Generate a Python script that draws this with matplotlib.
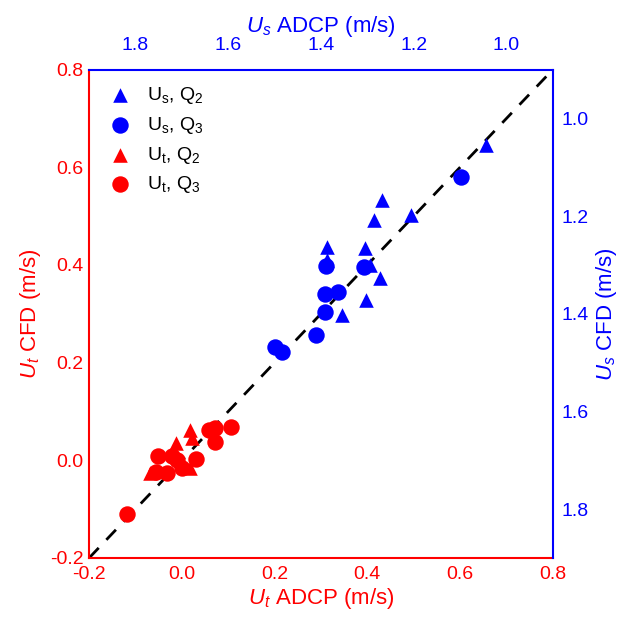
import matplotlib.pyplot as plt

plt.rcParams['font.family'] = ['Liberation Sans', 'DejaVu Sans']
plt.rcParams['mathtext.fontset'] = 'custom'
plt.rcParams['mathtext.rm'] = 'Liberation Sans'
plt.rcParams['mathtext.it'] = 'Liberation Sans:italic'

RED = '#ff0000'
BLUE = '#0000ff'

# U_t (red, bottom/left axes)
ut_q2_adcp = [0.018, 0.021, -0.013, -0.069, 0.017]
ut_q2_cfd = [0.062, 0.045, 0.035, -0.026, -0.015]
ut_q3_adcp = [-0.119, 0.106, 0.072, 0.059, 0.072, 0.031, -0.051, -0.022, -0.056, -0.031, 0.0, -0.011]
ut_q3_cfd = [-0.110, 0.069, 0.066, 0.061, 0.038, 0.002, 0.008, 0.008, -0.023, -0.026, -0.016, 0.0]

# U_s (blue, top/right axes)
us_q2_adcp = [1.269, 1.285, 1.206, 1.386, 1.304, 1.273, 1.302, 1.354, 1.388, 1.045, 1.294]
us_q2_cfd = [1.166, 1.207, 1.197, 1.263, 1.265, 1.326, 1.371, 1.403, 1.289, 1.055, 1.300]
us_q3_adcp = [1.097, 1.390, 1.307, 1.391, 1.363, 1.391, 1.411, 1.499, 1.485]
us_q3_cfd = [1.119, 1.303, 1.304, 1.359, 1.356, 1.397, 1.444, 1.467, 1.479]

t_ticks = [-0.2, 0.0, 0.2, 0.4, 0.6, 0.8]
s_ticks = [1.8, 1.6, 1.4, 1.2, 1.0]

fig = plt.figure(figsize=(6.19, 6.22), dpi=100)
ax = fig.add_axes([0.144, 0.103, 0.749, 0.785])
ax2 = fig.add_axes(ax.get_position(), frameon=False)

# red axes
ax.set_xlim(-0.2, 0.8)
ax.set_ylim(-0.2, 0.8)
ax.plot([-0.2, 0.8], [-0.2, 0.8], color='black', ls=(0, (5, 4)), lw=2, zorder=1)
h1 = ax.scatter(ut_q2_adcp, ut_q2_cfd, marker='^', s=110, color=RED, lw=0, zorder=3)
h2 = ax.scatter(ut_q3_adcp, ut_q3_cfd, marker='o', s=140, color=RED, lw=0, zorder=3)
ax.set_xticks(t_ticks)
ax.set_yticks(t_ticks)
ax.xaxis.set_major_formatter(plt.FormatStrFormatter('%.1f'))
ax.yaxis.set_major_formatter(plt.FormatStrFormatter('%.1f'))
ax.tick_params(length=0, labelsize=14, colors=RED)
ax.tick_params(axis='x', pad=6)
ax.tick_params(axis='y', pad=4)
ax.set_xlabel('$U_t$ ADCP (m/s)', color=RED, fontsize=16, labelpad=2)
ax.set_ylabel('$U_t$ CFD (m/s)', color=RED, fontsize=16, labelpad=5)
for side in ['left', 'bottom']:
    ax.spines[side].set_color(RED)
    ax.spines[side].set_linewidth(1.5)
for side in ['top', 'right']:
    ax.spines[side].set_visible(False)

# blue axes
ax2.set_xlim(1.9, 0.9)
ax2.set_ylim(1.9, 0.9)
h3 = ax2.scatter(us_q2_adcp, us_q2_cfd, marker='^', s=110, color=BLUE, lw=0, zorder=3)
h4 = ax2.scatter(us_q3_adcp, us_q3_cfd, marker='o', s=140, color=BLUE, lw=0, zorder=3)
ax2.xaxis.tick_top()
ax2.yaxis.tick_right()
ax2.xaxis.set_label_position('top')
ax2.yaxis.set_label_position('right')
ax2.set_xticks(s_ticks)
ax2.set_yticks(s_ticks)
ax2.xaxis.set_major_formatter(plt.FormatStrFormatter('%.1f'))
ax2.yaxis.set_major_formatter(plt.FormatStrFormatter('%.1f'))
ax2.tick_params(length=0, labelsize=14, colors=BLUE)
ax2.tick_params(axis='x', pad=11)
ax2.tick_params(axis='y', pad=6)
ax2.set_xlabel('$U_s$ ADCP (m/s)', color=BLUE, fontsize=16, labelpad=4)
ax2.set_ylabel('$U_s$ CFD (m/s)', color=BLUE, fontsize=16, labelpad=4)
ax2.plot([0, 1], [1, 1], transform=ax2.transAxes, color=BLUE, lw=1.5, clip_on=False)
ax2.plot([1, 1], [0, 1], transform=ax2.transAxes, color=BLUE, lw=1.5, clip_on=False)

ax2.legend([h3, h4, h1, h2],
           [r'$\mathregular{U_s}$, $\mathregular{Q_2}$',
            r'$\mathregular{U_s}$, $\mathregular{Q_3}$',
            r'$\mathregular{U_t}$, $\mathregular{Q_2}$',
            r'$\mathregular{U_t}$, $\mathregular{Q_3}$'],
           loc='upper left', frameon=False, fontsize=14, handletextpad=0.6,
           labelspacing=0.45, borderaxespad=0.4, handlelength=1.6)

fig.savefig('out.png', dpi=100)
